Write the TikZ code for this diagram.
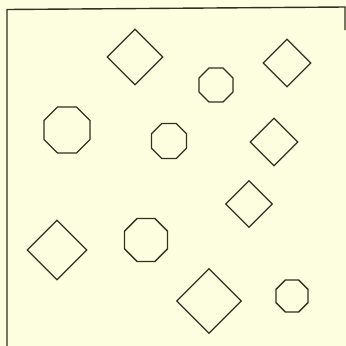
\documentclass[tikz,border=0pt]{standalone}
\usetikzlibrary{shapes.geometric}
\definecolor{paper}{RGB}{253,253,224}
\definecolor{ink}{RGB}{50,48,34}
\begin{document}
\begin{tikzpicture}[x=1pt, y=-1pt,
    diam/.style={draw=ink, line width=1.35pt, diamond, aspect=1, inner sep=0pt},
    octo/.style={draw=ink, line width=1.35pt, regular polygon, regular polygon sides=8, inner sep=0pt}]
    \fill[paper] (0,0) rectangle (346,346);
    \useasboundingbox (0,0) rectangle (346,346);
    % frame
    \draw[ink, line width=1.4pt] (7,346) -- (7,9.5) -- (345,7) -- (345,30);
    % diamonds: x/y/size/name
    \foreach \x/\y/\s/\n in {135/57/56/a, 287/63/48/b, 274/142/48/c, 249/204/47/d, 57/250/60/e, 209/301/65/f}{
        \node[diam, minimum size=\s pt] (dia\n) at (\x,\y) {};
    }
    % octagons: width across flats / cos(22.5)
    \foreach \x/\y/\w/\n in {67/130/46/a, 169/141/35/b, 216/85/34/c, 146/240/43/d, 292/296/32/e}{
        \pgfmathsetmacro{\d}{\w/0.9239}
        \node[octo, minimum size=\d pt] (oct\n) at (\x,\y) {};
    }
\end{tikzpicture}
\end{document}
